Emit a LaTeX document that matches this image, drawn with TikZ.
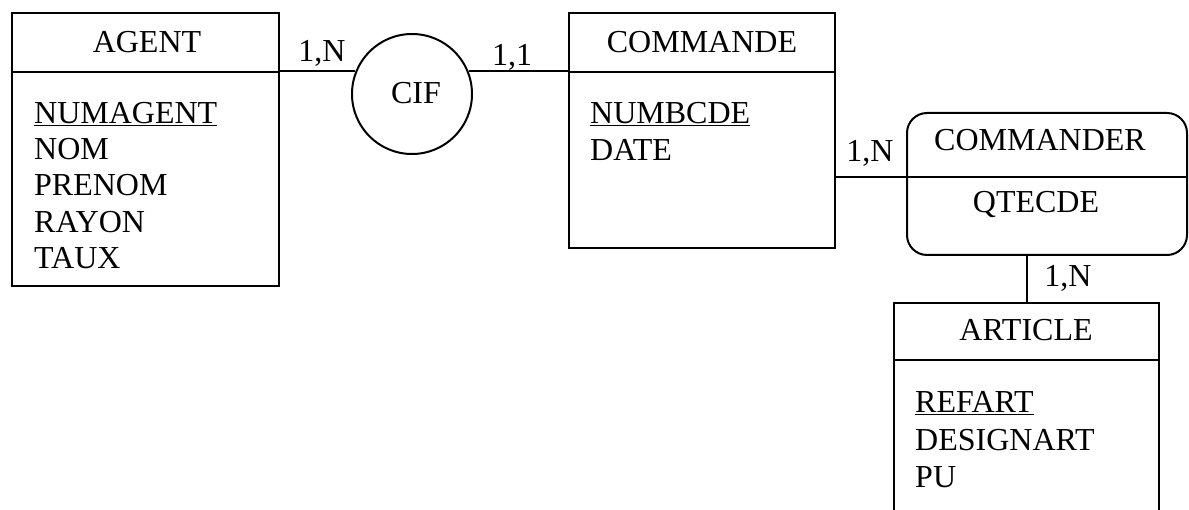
\documentclass[tikz,border=0pt]{standalone}
\usepackage{fontspec}
\setmainfont{Liberation Serif}
\tikzset{
  entite/.style={draw, line width=2pt, rectangle, inner sep=0pt},
  asso/.style={draw, line width=2pt, circle, inner sep=0pt, minimum size=120pt},
  titre/.style={inner sep=0pt},
  attributs/.style={align=left, anchor=north west, inner sep=0pt},
  card/.style={inner sep=0pt},
  lien/.style={line width=2pt}
}
\begin{document}
\begin{tikzpicture}[x=1pt, y=-1pt, font=\fontsize{32}{37.5}\selectfont]
  \useasboundingbox (0,0) rectangle (1189,510);
  \clip (0,0) rectangle (1189,510);

  %% entites
  \node[entite, minimum width=267pt, minimum height=273pt] (agent) at (145.5,149.5) {};
  \draw[lien] (agent.west |- 0,72) -- (agent.east |- 0,72);
  \node[titre] (agentnom) at (147,42) {AGENT};
  \node[attributs, font=\fontsize{32}{36.3}\selectfont] (agentattr) at (34,102)
    {\underline{NUMAGENT}\\NOM\\PRENOM\\RAYON\\TAUX};

  \node[entite, minimum width=266pt, minimum height=235pt] (commande) at (702,130.5) {};
  \draw[lien] (commande.west |- 0,72) -- (commande.east |- 0,72);
  \node[titre] (commandenom) at (702,42) {COMMANDE};
  \node[attributs] (commandeattr) at (590,102) {\underline{NUMBCDE}\\DATE};

  \node[entite, minimum width=265pt, minimum height=230pt] (article) at (1026.5,418) {};
  \draw[lien] (article.west |- 0,360) -- (article.east |- 0,360);
  \node[titre] (articlenom) at (1026,330) {ARTICLE};
  \node[attributs] (articleattr) at (915,391.6) {\underline{REFART}\\DESIGNART\\PU};

  %% associations
  \node[asso] (cif) at (412,94) {};
  \node[titre] (cifnom) at (416,93) {CIF};

  \node[entite, rounded corners=20pt, minimum width=280pt, minimum height=142pt] (commander) at (1047,184) {};
  \coordinate (cmdsep) at (commander.west |- 0,177);
  \draw[lien] (cmdsep) -- (commander.east |- cmdsep);
  \node[titre] (commandernom) at (1040,140) {COMMANDER};
  \node[titre] (qtecde) at (1036,205) {QTECDE};

  %% liens
  \draw[lien] (agent.east |- cif.158) -- (cif.158); %% agent -> cif
  \draw[lien] (cif.22) -- (commande.west |- cif.22); %% cif -> commande
  \draw[lien] (commande.east |- cmdsep) -- (cmdsep); %% commande -> commander
  \draw[lien] (article.north |- commander.south) -- (article.north); %% commander -> article

  %% cardinalites
  \node[card] (c1) at (322,53) {1,N};
  \node[card] (c2) at (512,57) {1,1};
  \node[card] (c3) at (870,153) {1,N};
  \node[card] (c4) at (1068,278) {1,N};
\end{tikzpicture}
\end{document}
